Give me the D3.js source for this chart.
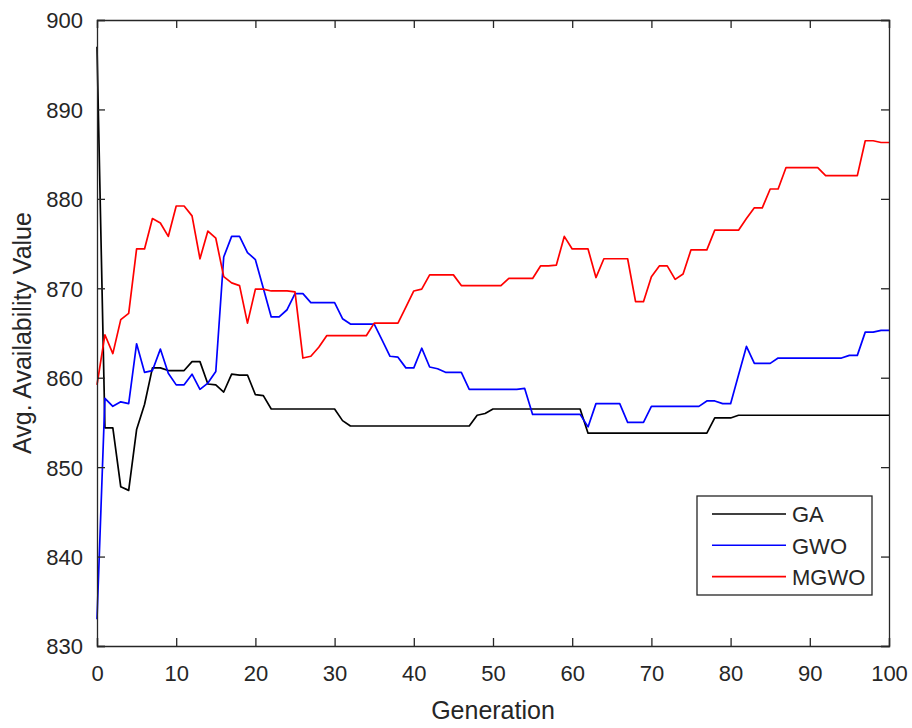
<!DOCTYPE html>
<html lang="en">
<head>
<meta charset="utf-8" />
<title>Avg. Availability Value by Generation</title>
<script src="https://d3js.org/d3.v7.min.js"></script>
<style>
  body { margin: 0; background: #fff; }
  svg text { font-family: "Liberation Sans", Arial, sans-serif; fill: #262626; }
</style>
</head>
<body>
<div id="chart"></div>
<script>
// series names shown in the legend
var seriesNames = ["GA", "GWO", "MGWO"];

// one value per generation, 0..100
var gaValues = [
  897.0, 854.4, 854.4, 847.8, 847.4, 854.2, 857.0, 861.1, 861.1, 860.8,
  860.8, 860.8, 861.8, 861.8, 859.3, 859.2, 858.4, 860.4, 860.3, 860.3,
  858.1, 858.0, 856.5, 856.5, 856.5, 856.5, 856.5, 856.5, 856.5, 856.5,
  856.5, 855.2, 854.6, 854.6, 854.6, 854.6, 854.6, 854.6, 854.6, 854.6,
  854.6, 854.6, 854.6, 854.6, 854.6, 854.6, 854.6, 854.6, 855.8, 856.0,
  856.5, 856.5, 856.5, 856.5, 856.5, 856.5, 856.5, 856.5, 856.5, 856.5,
  856.5, 856.5, 853.8, 853.8, 853.8, 853.8, 853.8, 853.8, 853.8, 853.8,
  853.8, 853.8, 853.8, 853.8, 853.8, 853.8, 853.8, 853.8, 855.5, 855.5,
  855.5, 855.8, 855.8, 855.8, 855.8, 855.8, 855.8, 855.8, 855.8, 855.8,
  855.8, 855.8, 855.8, 855.8, 855.8, 855.8, 855.8, 855.8, 855.8, 855.8,
  855.8
];

var gwoValues = [
  833.0, 857.7, 856.8, 857.3, 857.1, 863.8, 860.6, 860.8, 863.2, 860.5,
  859.2, 859.2, 860.4, 858.7, 859.4, 860.7, 873.5, 875.8, 875.8, 874.0,
  873.2, 870.0, 866.8, 866.8, 867.6, 869.4, 869.4, 868.4, 868.4, 868.4,
  868.4, 866.6, 866.0, 866.0, 866.0, 866.0, 864.2, 862.4, 862.3, 861.1,
  861.1, 863.3, 861.2, 861.0, 860.6, 860.6, 860.6, 858.7, 858.7, 858.7,
  858.7, 858.7, 858.7, 858.7, 858.8, 855.9, 855.9, 855.9, 855.9, 855.9,
  855.9, 855.9, 854.5, 857.1, 857.1, 857.1, 857.1, 855.0, 855.0, 855.0,
  856.8, 856.8, 856.8, 856.8, 856.8, 856.8, 856.8, 857.4, 857.4, 857.1,
  857.1, 860.3, 863.5, 861.6, 861.6, 861.6, 862.2, 862.2, 862.2, 862.2,
  862.2, 862.2, 862.2, 862.2, 862.2, 862.5, 862.5, 865.1, 865.1, 865.3,
  865.3
];

var mgwoValues = [
  859.2, 864.8, 862.7, 866.5, 867.2, 874.4, 874.4, 877.8, 877.3, 875.8,
  879.2, 879.2, 878.1, 873.3, 876.4, 875.6, 871.3, 870.6, 870.3, 866.1,
  869.9, 869.9, 869.7, 869.7, 869.7, 869.6, 862.2, 862.4, 863.4, 864.7,
  864.7, 864.7, 864.7, 864.7, 864.7, 866.1, 866.1, 866.1, 866.1, 867.9,
  869.7, 869.9, 871.5, 871.5, 871.5, 871.5, 870.3, 870.3, 870.3, 870.3,
  870.3, 870.3, 871.1, 871.1, 871.1, 871.1, 872.5, 872.5, 872.6, 875.8,
  874.4, 874.4, 874.4, 871.2, 873.3, 873.3, 873.3, 873.3, 868.5, 868.5,
  871.3, 872.5, 872.5, 871.0, 871.6, 874.3, 874.3, 874.3, 876.5, 876.5,
  876.5, 876.5, 877.8, 879.0, 879.0, 881.1, 881.1, 883.5, 883.5, 883.5,
  883.5, 883.5, 882.6, 882.6, 882.6, 882.6, 882.6, 886.5, 886.5, 886.3,
  886.3
];

var xTicks = [0, 10, 20, 30, 40, 50, 60, 70, 80, 90, 100];
var yTicks = [830, 840, 850, 860, 870, 880, 890, 900];

var series = [
  { name: seriesNames[0], values: gaValues, color: "#000000" },
  { name: seriesNames[1], values: gwoValues, color: "#0000ff" },
  { name: seriesNames[2], values: mgwoValues, color: "#ff0000" }
];

var width = 912, height = 728;
var margin = { top: 20, right: 23, bottom: 82, left: 97 };
var innerW = width - margin.left - margin.right;
var innerH = height - margin.top - margin.bottom;

var svg = d3.select("#chart").append("svg")
  .attr("width", width)
  .attr("height", height);

var g = svg.append("g")
  .attr("transform", "translate(" + margin.left + "," + margin.top + ")");

var x = d3.scaleLinear().domain([0, 100]).range([0, innerW]);
var y = d3.scaleLinear().domain([830, 900]).range([innerH, 0]);

var axisColor = "#262626";
var tickLen = 8;

// lines first, axes box on top
var line = d3.line()
  .x(function(d, i) { return x(i); })
  .y(function(d) { return y(d); });

series.forEach(function(s) {
  g.append("path")
    .datum(s.values)
    .attr("fill", "none")
    .attr("stroke", s.color)
    .attr("stroke-width", 1.7)
    .attr("stroke-linejoin", "round")
    .attr("d", line);
});

// bottom axis (inward ticks like matlab)
var xAxis = g.append("g")
  .attr("transform", "translate(0," + innerH + ")")
  .call(d3.axisBottom(x).tickValues(xTicks).tickSize(-tickLen).tickPadding(19));
// top axis, ticks only
var xTop = g.append("g")
  .call(d3.axisTop(x).tickValues(xTicks).tickSize(-tickLen).tickFormat(""));
// left axis
var yAxis = g.append("g")
  .call(d3.axisLeft(y).tickValues(yTicks).tickSize(-tickLen).tickPadding(14));
// right axis, ticks only
var yRight = g.append("g")
  .attr("transform", "translate(" + innerW + ",0)")
  .call(d3.axisRight(y).tickValues(yTicks).tickSize(-tickLen).tickFormat(""));

[xAxis, xTop, yAxis, yRight].forEach(function(a) {
  a.select(".domain").attr("stroke", axisColor).attr("stroke-width", 1.3);
  a.selectAll(".tick line").attr("stroke", axisColor).attr("stroke-width", 1.3);
  a.selectAll("text")
    .attr("font-size", 22)
    .style("font-family", '"Liberation Sans", Arial, sans-serif')
    .attr("fill", "#333");
});
yAxis.selectAll("text").attr("dy", "0.36em");
xAxis.selectAll("text").attr("dy", "0.71em");

// axis titles
svg.append("text")
  .attr("x", margin.left + innerW / 2)
  .attr("y", 719)
  .attr("text-anchor", "middle")
  .attr("font-size", 25)
  .attr("fill", "#333")
  .text("Generation");

svg.append("text")
  .attr("transform", "translate(31," + (margin.top + innerH / 2) + ") rotate(-90)")
  .attr("text-anchor", "middle")
  .attr("font-size", 25)
  .attr("fill", "#333")
  .text("Avg. Availability Value");

// legend box
var legend = svg.append("g").attr("transform", "translate(697,496)");
legend.append("rect")
  .attr("width", 175)
  .attr("height", 99)
  .attr("fill", "#fff")
  .attr("stroke", axisColor)
  .attr("stroke-width", 1.3);

series.forEach(function(s, i) {
  var row = legend.append("g").attr("transform", "translate(0," + (18 + i * 31.3) + ")");
  row.append("line")
    .attr("x1", 15).attr("x2", 89)
    .attr("y1", 0).attr("y2", 0)
    .attr("stroke", s.color)
    .attr("stroke-width", 1.6);
  row.append("text")
    .attr("x", 95)
    .attr("y", 0)
    .attr("dy", "0.38em")
    .attr("font-size", 22)
    .attr("fill", "#333")
    .text(s.name);
});
</script>
</body>
</html>
